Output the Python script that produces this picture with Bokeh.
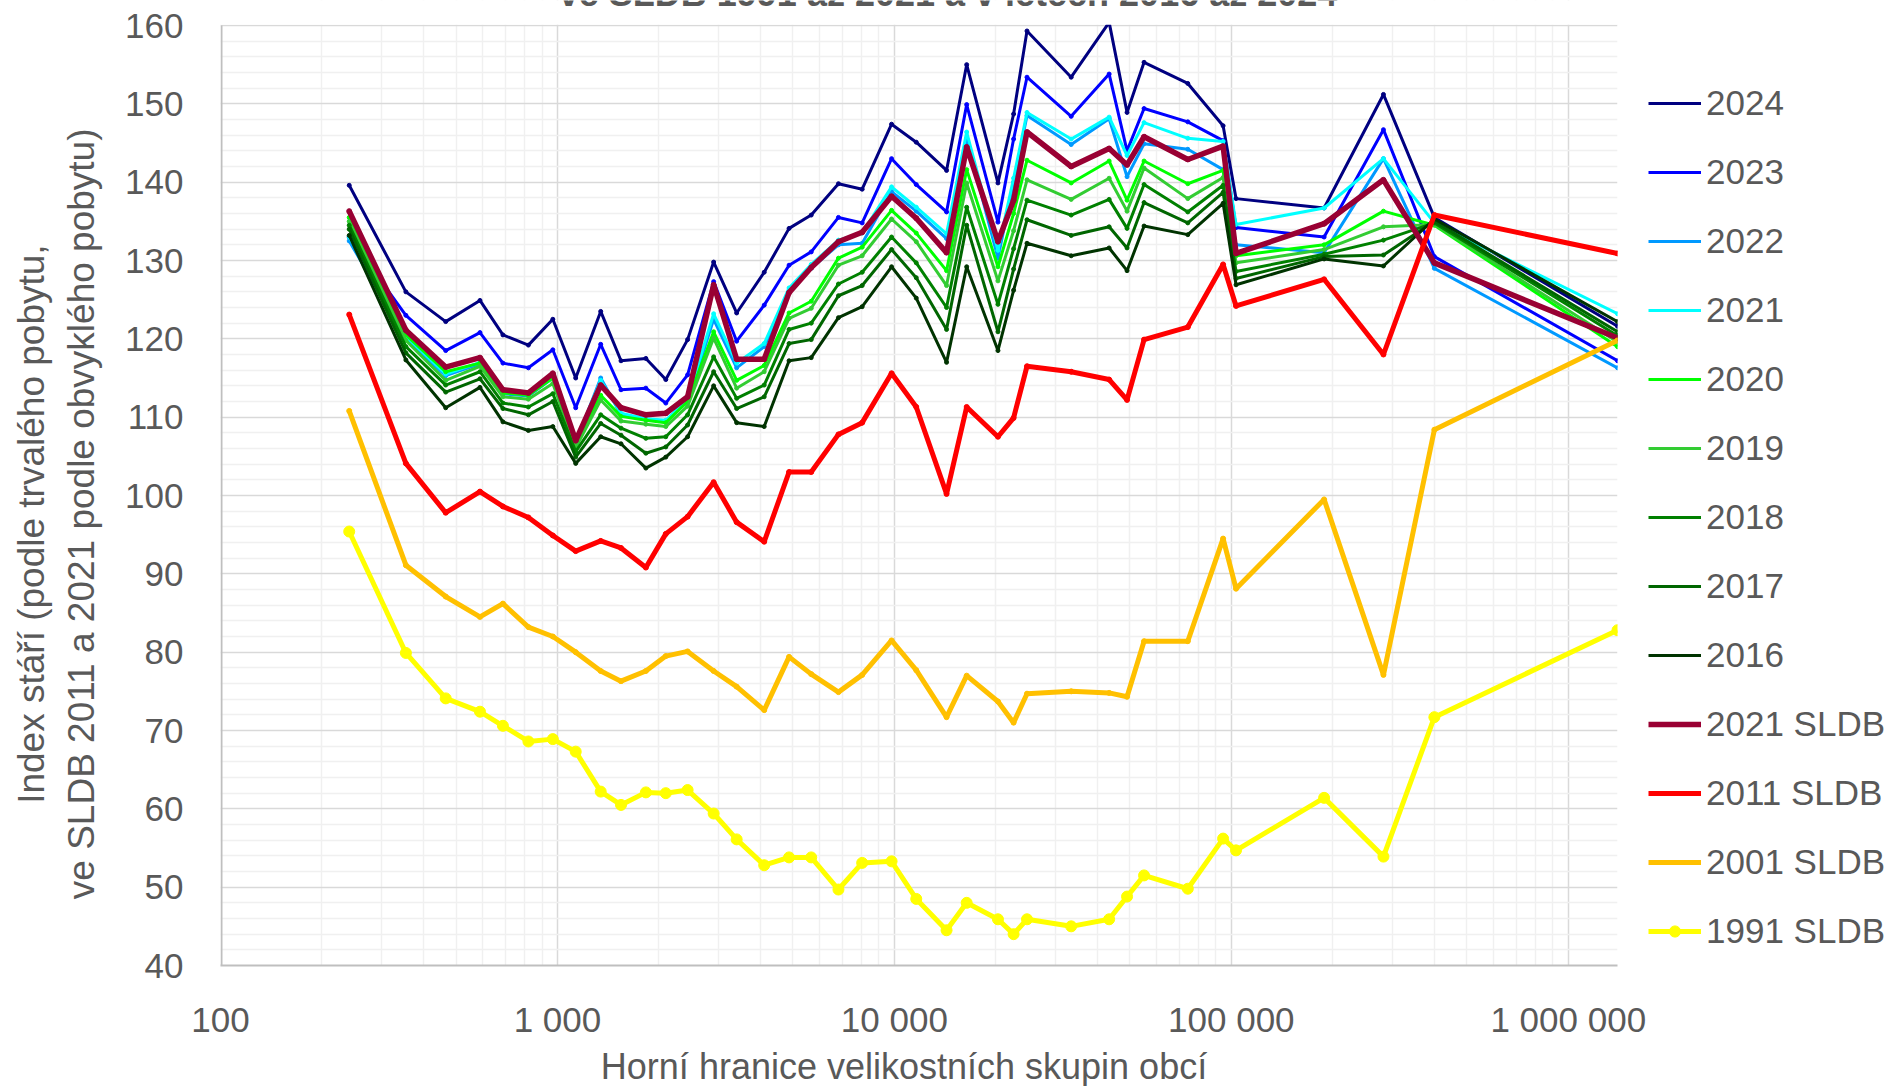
import math
from bokeh.plotting import figure
from bokeh.models import (Range1d, FixedTicker, Label, Legend, LegendItem, LinearAxis, LogAxis,
                          BoxAnnotation)
from bokeh.embed import file_html
from bokeh.resources import INLINE

# Upper bound of municipality size groups (x values)
x_upper = [241, 355, 466, 589, 689, 820, 969, 1133, 1344, 1544,
           1830, 2097, 2434, 2908, 3403, 4108, 4869, 5665, 6823, 8024,
           9810, 11612, 14284, 16389, 20295, 22585, 24750, 33475, 43393, 49038,
           55081, 74275, 94540, 103274, 188531, 282800, 400500, 1400000]

y2024 = [139.6, 126.0, 122.2, 124.9, 120.5, 119.2, 122.5, 115.0, 123.5, 117.2,
         117.5, 114.8, 119.9, 129.8, 123.3, 128.5, 134.1, 135.8, 139.8, 139.1,
         147.4, 145.1, 141.5, 155.0, 139.9, 148.7, 159.3, 153.4, 160.4, 148.9,
         155.3, 152.6, 147.2, 137.9, 136.7, 151.2, 135.5, 121.6]
y2023 = [133.0, 123.0, 118.5, 120.8, 116.9, 116.3, 118.6, 111.2, 119.3, 113.5,
         113.7, 111.8, 115.4, 127.3, 119.7, 124.3, 129.4, 131.1, 135.5, 134.8,
         143.0, 139.7, 136.2, 149.9, 134.9, 145.5, 153.4, 148.4, 153.8, 144.0,
         149.4, 147.7, 145.3, 134.2, 133.0, 146.7, 130.5, 117.2]
y2022 = [132.5, 120.0, 115.3, 116.8, 113.0, 112.7, 115.0, 106.7, 115.0, 110.3,
         109.7, 109.5, 112.0, 122.5, 116.3, 119.0, 126.0, 129.0, 132.0, 132.2,
         138.8, 136.3, 132.8, 145.6, 130.3, 140.0, 148.5, 144.8, 148.1, 140.7,
         144.9, 144.2, 141.6, 132.0, 131.0, 143.0, 129.0, 116.3]
y2021 = [133.0, 120.3, 115.5, 117.0, 113.2, 112.9, 115.2, 106.8, 114.7, 110.5,
         109.8, 109.6, 112.3, 123.2, 116.9, 119.4, 126.5, 129.5, 132.6, 133.5,
         139.4, 136.8, 133.4, 146.4, 131.3, 140.5, 148.9, 145.5, 148.3, 143.4,
         147.6, 145.6, 145.2, 134.6, 136.7, 143.0, 134.8, 123.2]
y2020 = [135.5, 120.5, 115.8, 116.9, 113.1, 112.8, 115.0, 106.5, 112.8, 110.1,
         109.6, 109.3, 112.0, 120.9, 114.7, 116.6, 123.3, 124.8, 130.3, 131.7,
         136.4, 133.5, 128.7, 141.6, 129.2, 136.0, 142.8, 139.9, 142.7, 137.7,
         142.7, 139.8, 141.5, 130.6, 132.0, 136.3, 134.5, 119.0]
y2019 = [135.0, 119.8, 114.7, 116.5, 112.6, 112.3, 114.3, 106.1, 112.2, 109.5,
         109.1, 108.8, 111.4, 120.1, 113.7, 115.8, 122.6, 123.9, 129.4, 130.6,
         135.3, 132.4, 126.8, 139.9, 127.4, 133.8, 140.3, 137.8, 140.5, 136.3,
         141.8, 137.9, 140.6, 129.7, 131.4, 134.3, 134.6, 119.6]
y2018 = [134.5, 119.0, 114.1, 115.8, 111.8, 111.3, 113.0, 105.6, 110.3, 108.6,
         107.3, 107.5, 110.3, 117.7, 112.4, 114.1, 121.2, 122.0, 127.0, 128.5,
         133.0, 129.7, 124.0, 136.8, 124.4, 131.5, 137.7, 135.8, 137.8, 134.1,
         139.7, 136.2, 139.6, 128.6, 130.8, 132.6, 134.8, 120.4]
y2017 = [134.0, 118.2, 113.2, 114.9, 111.1, 110.3, 112.0, 104.9, 109.2, 107.7,
         105.4, 106.2, 109.0, 115.8, 111.1, 112.6, 119.4, 119.9, 125.5, 126.8,
         131.4, 127.8, 121.2, 134.5, 120.9, 128.9, 135.2, 133.2, 134.3, 131.6,
         137.4, 134.8, 138.7, 127.7, 130.5, 130.7, 135.0, 120.9]
y2016 = [133.2, 117.3, 111.2, 113.8, 109.4, 108.3, 108.8, 104.1, 107.5, 106.6,
         103.5, 104.9, 107.5, 114.0, 109.3, 108.8, 117.2, 117.6, 122.7, 124.1,
         129.2, 125.2, 117.0, 129.2, 118.5, 126.2, 132.2, 130.6, 131.6, 128.7,
         134.4, 133.3, 137.3, 126.9, 130.2, 129.3, 135.3, 122.2]
y2021_sldb = [136.3, 121.1, 116.4, 117.6, 113.5, 113.1, 115.6, 107.0, 114.1, 111.2,
              110.3, 110.5, 112.6, 126.9, 117.4, 117.4, 125.9, 129.1, 132.4, 133.6,
              138.2, 135.4, 131.0, 144.5, 132.4, 137.7, 146.4, 142.0, 144.3, 142.2,
              145.8, 142.9, 144.6, 130.9, 134.7, 140.3, 129.7, 120.1]
y2011_sldb = [123.1, 104.1, 97.8, 100.5, 98.6, 97.2, 94.9, 92.9, 94.2, 93.3,
              90.8, 95.1, 97.3, 101.7, 96.6, 94.1, 103.0, 103.0, 107.8, 109.3,
              115.6, 111.3, 100.2, 111.3, 107.5, 109.9, 116.5, 115.8, 114.8, 112.2,
              119.9, 121.5, 129.5, 124.2, 127.6, 118.0, 135.8, 130.9]
y2001_sldb = [110.8, 91.1, 87.1, 84.5, 86.2, 83.2, 82.0, 80.0, 77.6, 76.3,
              77.6, 79.5, 80.1, 77.6, 75.6, 72.6, 79.4, 77.2, 74.9, 77.1,
              81.5, 77.7, 71.7, 77.0, 73.7, 71.0, 74.7, 75.0, 74.8, 74.3,
              81.4, 81.4, 94.5, 88.1, 99.5, 77.1, 108.4, 119.8]
y1991_sldb = [95.4, 79.9, 74.1, 72.4, 70.6, 68.6, 68.9, 67.3, 62.2, 60.5,
              62.1, 62.0, 62.4, 59.4, 56.1, 52.8, 53.8, 53.8, 49.7, 53.1,
              53.3, 48.5, 44.5, 48.0, 45.9, 44.0, 45.9, 45.0, 45.9, 48.8,
              51.5, 49.8, 56.2, 54.7, 61.4, 53.9, 71.7, 82.8]

series_names = ["2024", "2023", "2022", "2021", "2020", "2019", "2018", "2017", "2016",
                "2021 SLDB", "2011 SLDB", "2001 SLDB", "1991 SLDB"]
series_values = [y2024, y2023, y2022, y2021, y2020, y2019, y2018, y2017, y2016,
                 y2021_sldb, y2011_sldb, y2001_sldb, y1991_sldb]
series_colors = ["#000080", "#0000FF", "#0099FF", "#00FFFF", "#00FF00", "#33CC33",
                 "#008000", "#006600", "#003300", "#990033", "#FF0000", "#FFC000", "#FFFF00"]
series_widths = [3, 3, 3, 3, 3, 3, 3, 3, 3, 5.5, 5, 5, 5]
marker_sizes = [4, 4, 4, 4, 4, 4, 4, 4, 4, 5, 5, 5, 11]

x_ticks = [100, 1000, 10000, 100000, 1000000]
x_tick_labels = ["100", "1 000", "10 000", "100 000", "1 000 000"]
y_ticks = list(range(40, 161, 10))

title_text = "ve SLDB 1991 až 2021 a v letech 2016 až 2024"
y_title_1 = "Index stáří (podle trvalého pobytu,"
y_title_2 = "ve SLDB 2011 a 2021 podle obvyklého pobytu)"
x_title = "Horní hranice velikostních skupin obcí"

TEXT = "#595959"
FONT = "Liberation Sans"
NBSP = "\u00a0"

PX_PER_UNIT = 940 / 120
PX_PER_DECADE = 336.7
# frame spans the full top (so that the clipped title can be drawn); area above 160 is blanked
Y_TOP = 40 + 965 / PX_PER_UNIT

p = figure(x_axis_type="log", frame_width=1397, frame_height=965,
           min_border_left=220, min_border_right=270, min_border_top=0, min_border_bottom=112,
           x_range=Range1d(100, 1400000), y_range=Range1d(40, Y_TOP),
           output_backend="svg", toolbar_location=None)
p.outline_line_color = None
p.background_fill_color = "white"

minor_x = [m * 10 ** e for e in range(2, 6) for m in range(2, 10)]
p.xaxis.ticker = FixedTicker(ticks=x_ticks, minor_ticks=minor_x)
p.xaxis.major_label_overrides = {t: l for t, l in zip(x_ticks, x_tick_labels)}
p.yaxis.ticker = FixedTicker(ticks=y_ticks, minor_ticks=[v for v in range(40, 161, 2) if v % 10])

for ax in (p.xaxis[0], p.yaxis[0]):
    ax.major_tick_line_color = None
    ax.minor_tick_line_color = None
    ax.major_tick_out = 0
    ax.major_label_text_font = FONT
    ax.major_label_text_font_size = "35px"
    ax.major_label_text_color = TEXT
    ax.axis_label_text_font = FONT
    ax.axis_label_text_color = TEXT
    ax.axis_label_text_font_style = "normal"
p.xaxis.axis_line_color = "#BFBFBF"
p.xaxis.axis_line_width = 2
p.yaxis.axis_line_color = None
p.xaxis.major_label_standoff = 30
p.yaxis.major_label_standoff = 33
# trailing no-break spaces shift the centred titles towards their position in the original
p.yaxis.axis_label = y_title_2 + NBSP * 6
p.yaxis.axis_label_text_font_size = "37px"
p.yaxis.axis_label_standoff = 20

outer_axis = LinearAxis(ticker=FixedTicker(ticks=[]), axis_label=y_title_1 + NBSP * 8,
                        axis_line_color=None, major_tick_line_color=None,
                        minor_tick_line_color=None, major_tick_out=0, minor_tick_out=0,
                        major_label_standoff=0, axis_label_standoff=7,
                        axis_label_text_font=FONT, axis_label_text_font_size="37px",
                        axis_label_text_color=TEXT, axis_label_text_font_style="normal")
p.add_layout(outer_axis, "left")

x_title_axis = LogAxis(ticker=FixedTicker(ticks=[]), axis_label=x_title + NBSP * 3,
                       axis_line_color=None, major_tick_line_color=None,
                       minor_tick_line_color=None, major_tick_out=0, minor_tick_out=0,
                       major_label_standoff=0, axis_label_standoff=4,
                       axis_label_text_font=FONT, axis_label_text_font_size="36px",
                       axis_label_text_color=TEXT, axis_label_text_font_style="normal")
p.add_layout(x_title_axis, "below")

for g in (p.xgrid[0], p.ygrid[0]):
    g.grid_line_color = "#D9D9D9"
    g.grid_line_width = 1.5
    g.minor_grid_line_color = "#F0F0F0"
    g.minor_grid_line_width = 1.5

items = []
for name, vals, col, w, ms in zip(series_names, series_values, series_colors, series_widths, marker_sizes):
    r1 = p.line(x_upper, vals, line_color=col, line_width=w)
    r2 = p.scatter(x_upper, vals, marker="circle", size=ms, fill_color=col, line_color=col)
    rends = [r1, r2] if ms > 8 else [r1]
    items.append(LegendItem(label=name, renderers=rends))

# blank strip above the plot area, plus the left axis line
p.add_layout(BoxAnnotation(bottom=160.1, fill_color="white", fill_alpha=1, line_color=None))
p.add_layout(BoxAnnotation(left=100, right=100 * 10 ** (2.0 / PX_PER_DECADE), bottom=40, top=160,
                           fill_color="#BFBFBF", fill_alpha=1, line_color=None))

# title, mostly cut off at the top edge as in the original
p.add_layout(Label(x=10 ** (2 + 727 / PX_PER_DECADE), y=40 + (965 + 7) / PX_PER_UNIT,
                   text=title_text, text_align="center", text_baseline="alphabetic",
                   text_font=FONT, text_font_size="36px", text_font_style="bold",
                   text_color=TEXT))

legend = Legend(items=items, location=(31, 14))
legend.glyph_width = 53
legend.glyph_height = 28
legend.label_height = 40
legend.spacing = 29
legend.padding = 0
legend.margin = 0
legend.label_standoff = 5
legend.border_line_color = None
legend.background_fill_alpha = 0
legend.label_text_font = FONT
legend.label_text_font_size = "35px"
legend.label_text_color = TEXT
p.add_layout(legend, "right")

open("out.html", "w").write(file_html(p, INLINE))
